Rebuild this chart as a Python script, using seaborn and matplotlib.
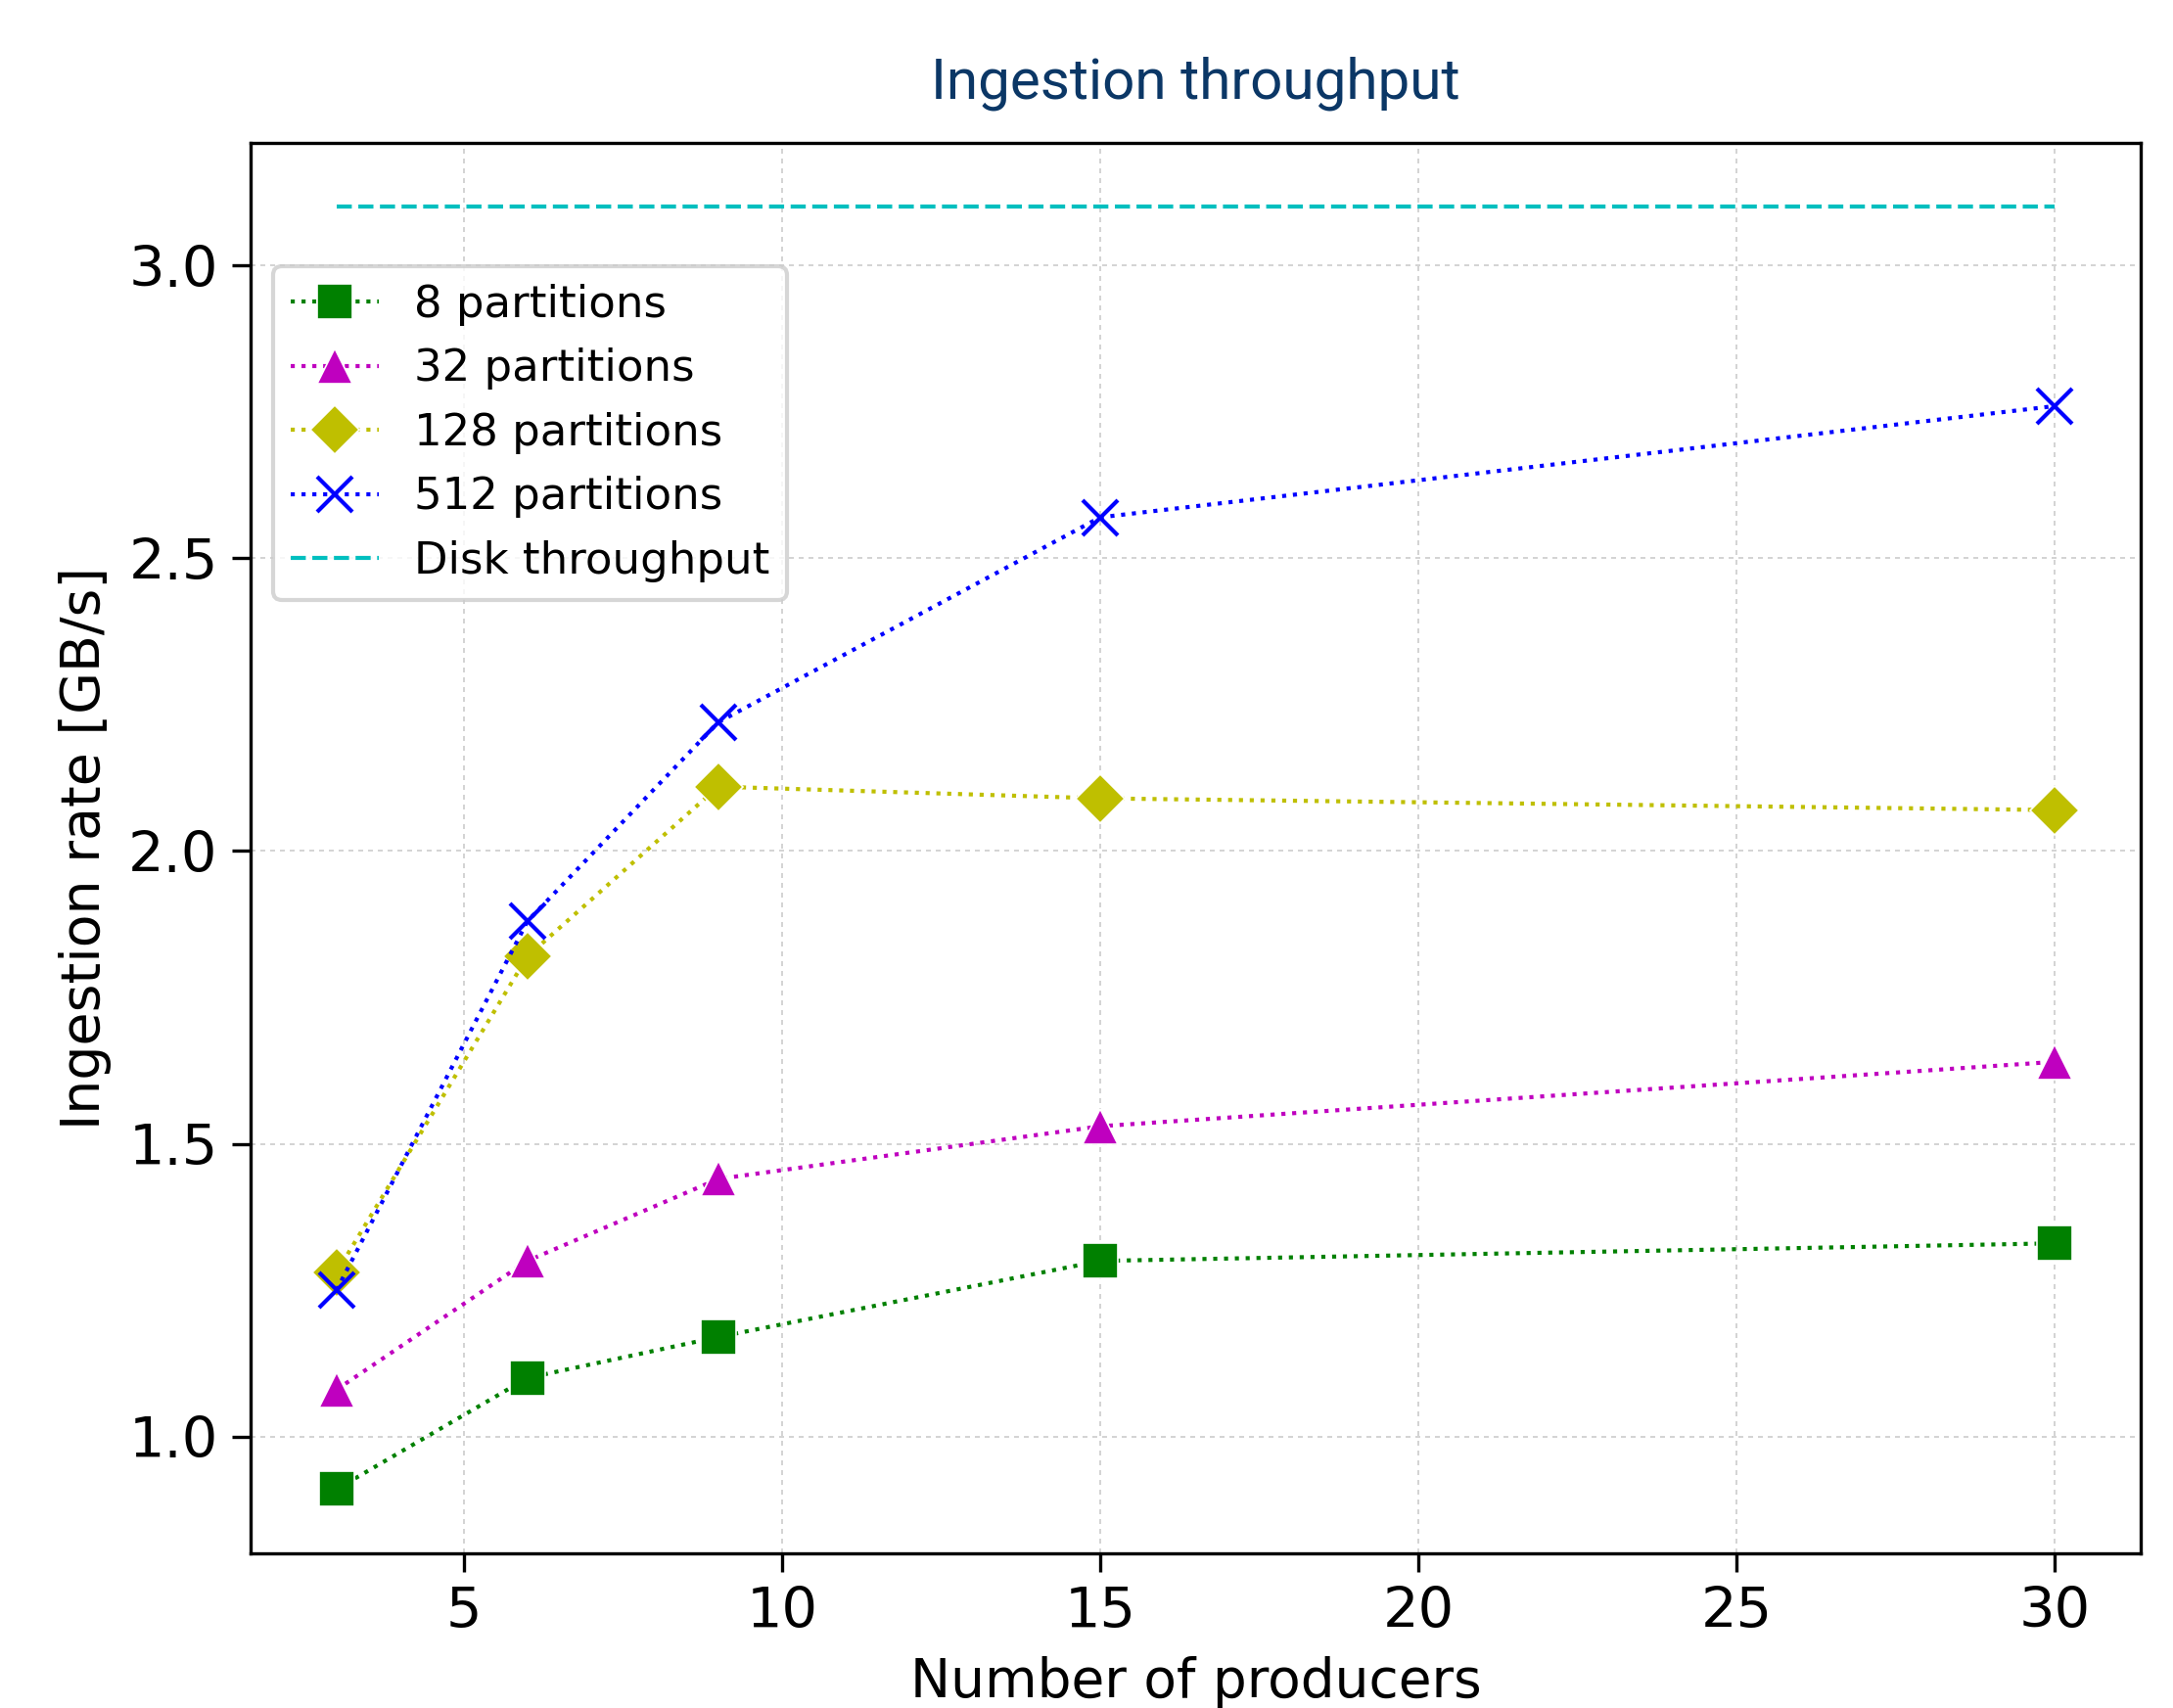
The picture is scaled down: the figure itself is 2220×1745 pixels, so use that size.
import pandas as pd
import matplotlib.pyplot as plt
import seaborn as sns

# dados
produtores = [3, 6, 9, 15, 30]
part_8 = [0.91, 1.10, 1.17, 1.30, 1.33]
part_32 = [1.08, 1.30, 1.44, 1.53, 1.64]
part_128 = [1.28, 1.82, 2.11, 2.09, 2.07]
part_512 = [1.25, 1.88, 2.22, 2.57, 2.76]
disco_x = [3, 30]
disco_y = [3.1, 3.1]

series = [
    ("8 partitions", part_8, "s", "g"),
    ("32 partitions", part_32, "^", "m"),
    ("128 partitions", part_128, "D", "y"),
    ("512 partitions", part_512, "x", "b"),
]

sns.set_style("white")
plt.rcParams['font.family'] = ['DejaVu Sans']
plt.rcParams['text.color'] = 'black'
plt.rcParams['axes.labelcolor'] = 'black'

fig = plt.figure(figsize=(7.4, 5.8167), dpi=300)
ax = fig.add_axes([256 / 2220, 1 - 1587 / 1745, (2187 - 256) / 2220, (1587 - 146) / 1745])

for nome, valores, marcador, cor in series:
    df = pd.DataFrame({"x": produtores, "y": valores})
    sns.lineplot(data=df, x="x", y="y", ax=ax, color=cor, marker=marcador,
                 linestyle=":", linewidth=1, markersize=8.5, label=nome,
                 markeredgecolor=(cor if marcador == "x" else "w"),
                 markeredgewidth=(1 if marcador == "x" else 0.4))

df_disco = pd.DataFrame({"x": disco_x, "y": disco_y})
sns.lineplot(data=df_disco, x="x", y="y", ax=ax, color="c", linestyle="--",
             linewidth=1, label="Disk throughput")

ax.grid(True, color="#cccccc", linestyle=(0, (3, 3)), linewidth=0.4)
for s in ax.spines.values():
    s.set_color("black")
    s.set_linewidth(0.8)
ax.tick_params(axis="both", direction="out", length=4.5, width=0.8, labelsize=13.8,
               bottom=True, left=True, colors="black")
ax.set_yticks([1.0, 1.5, 2.0, 2.5, 3.0])
ax.set_xticks([5, 10, 15, 20, 25, 30])
ax.set_xlabel("Number of producers", fontsize=13.2)
ax.set_ylabel("Ingestion rate [GB/s]", fontsize=13.3)
ax.set_title("Ingestion throughput", fontsize=14, color="#0b3766",
             family=["Roboto", "DejaVu Sans"], pad=11)

ax.legend(loc="upper left", bbox_to_anchor=(0.0117, 0.9126), borderaxespad=0,
          fontsize=10.8, frameon=True, edgecolor="#cccccc", fancybox=True,
          handletextpad=0.8, labelspacing=0.5)

fig.savefig("out.png", dpi=300)
